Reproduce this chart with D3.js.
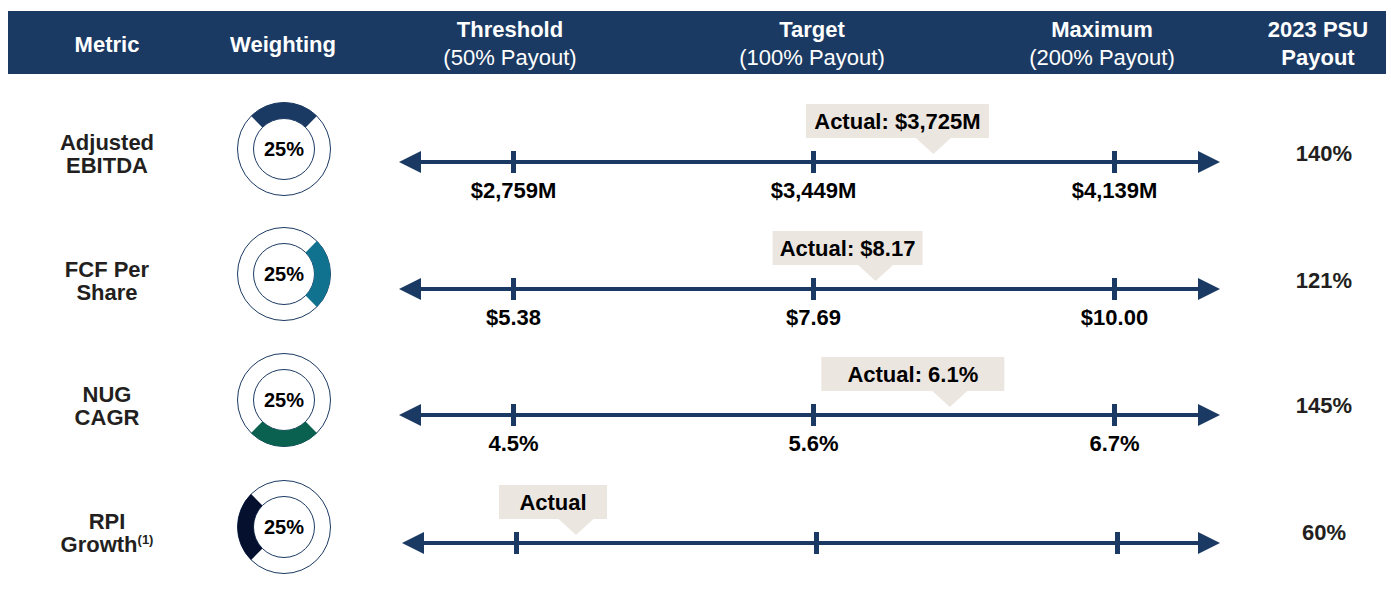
<!DOCTYPE html>
<html>
<head>
<meta charset="utf-8">
<script src="https://cdn.jsdelivr.net/npm/d3@7/dist/d3.min.js"></script>
<style>
  html, body { margin: 0; padding: 0; background: #ffffff; }
  svg { display: block; font-family: "Liberation Sans", Arial, sans-serif; }
</style>
</head>
<body>
<svg id="chart" width="1391" height="591"></svg>
<script>
// ---------- data ----------
const headerTitles   = ["Metric", "Weighting", "Threshold", "Target", "Maximum", "2023 PSU"];
const headerSubtitles = ["", "", "(50% Payout)", "(100% Payout)", "(200% Payout)", "Payout"];
const metricLine1 = ["Adjusted", "FCF Per", "NUG", "RPI"];
const metricLine2 = ["EBITDA", "Share", "CAGR", "Growth"];
const metricNotes = ["", "", "", "(1)"];
const weightings = [25, 25, 25, 25];
const thresholdValues = [2759, 5.38, 4.5, null];
const targetValues    = [3449, 7.69, 5.6, null];
const maximumValues   = [4139, 10.00, 6.7, null];
const thresholdLabels = ["$2,759M", "$5.38", "4.5%", ""];
const targetLabels    = ["$3,449M", "$7.69", "5.6%", ""];
const maximumLabels   = ["$4,139M", "$10.00", "6.7%", ""];
const actualValues = [3725, 8.17, 6.1, null];
const actualLabels = ["Actual: $3,725M", "Actual: $8.17", "Actual: 6.1%", "Actual"];
const payoutLevels = [50, 100, 200];
const payouts = [140, 121, 145, 60];

// ---------- layout / style ----------
const navy = "#1b3a63";
const calloutFill = "#ece6e0";
const donutColors = ["#1b3a63", "#11728f", "#0b6150", "#050f2e"];
const headerX = [107, 283, 510, 812, 1102, 1318];
const rowLineY = [162, 289, 415, 543];
const donutY = [149, 274, 400, 527];
const labelY = [153, 280, 405, 532];
const rowDx = [0, 0, 0, 3];
const boxW = [183, 150, 183, 108];
const boxDx = [-36, -28, -37, -23];
const tickRange = [513, 813, 1114];

const svg = d3.select("#chart");

// header band
svg.append("rect").attr("x", 8).attr("y", 11).attr("width", 1378).attr("height", 63).attr("fill", navy);
const hdr = svg.append("g").attr("fill", "#ffffff").attr("text-anchor", "middle").style("font-size", "22px");
headerTitles.forEach((t, i) => {
  const two = headerSubtitles[i] !== "";
  hdr.append("text").attr("x", headerX[i]).attr("y", two ? 37 : 52)
    .style("font-weight", "bold").text(t);
  if (two) {
    hdr.append("text").attr("x", headerX[i]).attr("y", 65)
      .style("font-weight", i === 5 ? "bold" : "normal").text(headerSubtitles[i]);
  }
});

// donut arc generator
const arc = d3.arc().innerRadius(30.5).outerRadius(46.5);
const pie = d3.pie().sort(null).value(d => d);

metricLine1.forEach((m, i) => {
  // metric labels
  const lab = svg.append("g").attr("text-anchor", "middle").attr("fill", "#231f20")
    .style("font-size", "22px").style("font-weight", "bold");
  lab.append("text").attr("x", 107).attr("y", labelY[i] - 11 + 8).text(m);
  const t2 = lab.append("text").attr("x", 107).attr("y", labelY[i] + 12 + 8);
  t2.append("tspan").text(metricLine2[i]);
  if (metricNotes[i]) {
    t2.append("tspan").attr("dy", -8).style("font-size", "13px").text(metricNotes[i]);
  }

  // donut
  const g = svg.append("g").attr("transform", `translate(284,${donutY[i]})`);
  g.append("circle").attr("r", 46.5).attr("fill", "#fff").attr("stroke", navy).attr("stroke-width", 1);
  g.append("circle").attr("r", 30.5).attr("fill", "none").attr("stroke", navy).attr("stroke-width", 1);
  const start = (i * 90 - 45) * Math.PI / 180;
  const slices = pie([weightings[i], 100 - weightings[i]]).map(s => ({
    ...s, startAngle: s.startAngle + start, endAngle: s.endAngle + start
  }));
  g.append("path").attr("d", arc(slices[0])).attr("fill", donutColors[i]);
  g.append("text").attr("text-anchor", "middle").attr("y", 7)
    .style("font-size", "20px").style("font-weight", "bold").attr("fill", "#000")
    .text(weightings[i] + "%");

  // scale for this row
  const dx = rowDx[i];
  const range = tickRange.map(v => v + dx);
  const hasVals = thresholdValues[i] !== null;
  const x = hasVals
    ? d3.scaleLinear().domain([thresholdValues[i], targetValues[i], maximumValues[i]]).range(range)
    : d3.scaleLinear().domain(payoutLevels).range(range);
  const y = rowLineY[i];

  // line with arrows
  const ln = svg.append("g");
  ln.append("line").attr("x1", 418 + dx).attr("x2", 1200).attr("y1", y).attr("y2", y)
    .attr("stroke", navy).attr("stroke-width", 4);
  ln.append("path").attr("d", `M${399 + dx},${y} L${421 + dx},${y - 11} L${421 + dx},${y + 11} Z`).attr("fill", navy);
  ln.append("path").attr("d", `M1220,${y} L1198,${y - 11} L1198,${y + 11} Z`).attr("fill", navy);

  // ticks via axis
  const tickVals = hasVals ? [thresholdValues[i], targetValues[i], maximumValues[i]] : payoutLevels;
  const tickLabs = [thresholdLabels[i], targetLabels[i], maximumLabels[i]];
  const axis = d3.axisBottom(x).tickValues(tickVals).tickSize(0)
    .tickFormat((d, k) => tickLabs[k]);
  const ax = svg.append("g").attr("transform", `translate(0,${y})`).call(axis);
  ax.select(".domain").remove();
  ax.selectAll(".tick").append("rect").attr("x", -2.5).attr("y", -11).attr("width", 5).attr("height", 22).attr("fill", navy);
  ax.selectAll(".tick text").attr("y", 36).attr("dy", 0).attr("fill", "#000")
    .style("font-size", "22px").style("font-weight", "bold")
    .style("font-family", "'Liberation Sans', Arial, sans-serif");

  // callout
  const px = hasVals ? x(actualValues[i]) : x(payouts[i]);
  const bx = px + boxDx[i] - boxW[i] / 2;
  const bBottom = y - 24, bTop = bBottom - 34;
  const co = svg.append("g");
  co.append("rect").attr("x", bx).attr("y", bTop).attr("width", boxW[i]).attr("height", 34).attr("fill", calloutFill);
  co.append("path").attr("d", `M${px - 18},${bBottom - 0.5} L${px + 18},${bBottom - 0.5} L${px},${y - 8} Z`).attr("fill", calloutFill);
  co.append("text").attr("x", bx + boxW[i] / 2).attr("y", bTop + 25).attr("text-anchor", "middle")
    .style("font-size", "22px").style("font-weight", "bold").attr("fill", "#000").text(actualLabels[i]);

  // payout
  svg.append("text").attr("x", 1324).attr("y", labelY[i] + 8).attr("text-anchor", "middle")
    .style("font-size", "22px").style("font-weight", "bold").attr("fill", "#231f20")
    .text(payouts[i] + "%");
});
</script>
</body>
</html>
